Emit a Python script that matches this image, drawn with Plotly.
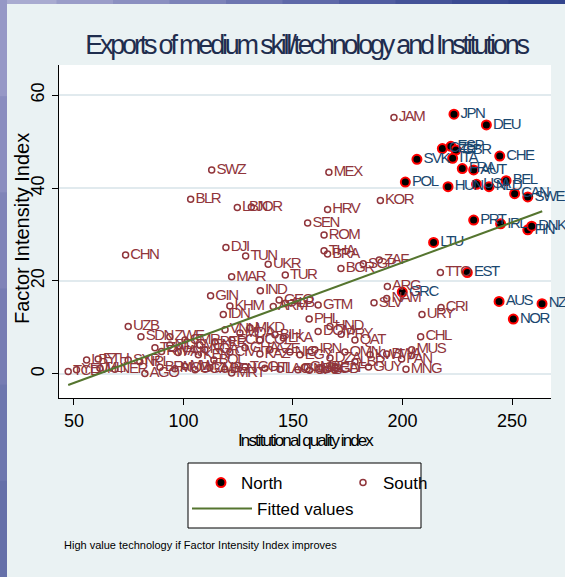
import plotly.graph_objects as go

# ---------------- data ----------------
north_labels = ["JPN", "DEU", "CZE", "ESP", "GBR", "SVK", "ITA", "CHE", "FRA", "AUT",
                "POL", "HUN", "USA", "NLD", "BEL", "CAN", "SWE", "PRT", "IRL", "FIN",
                "DNK", "LTU", "EST", "GRC", "AUS", "NZL", "NOR"]
north_x = [223.5, 238.3, 218.2, 222.1, 224.4, 206.6, 222.9, 244.4, 227.3, 232.5,
           201.3, 220.8, 233.8, 239.5, 247.3, 251.2, 257.2, 232.5, 244.8, 257.2,
           259.0, 214.2, 229.6, 199.9, 244.1, 263.7, 250.6]
north_y = [55.9, 53.6, 48.5, 49.0, 48.2, 46.2, 46.4, 46.9, 44.2, 43.9,
           41.3, 40.3, 40.8, 40.3, 41.6, 38.8, 38.1, 33.1, 32.3, 31.0,
           31.8, 28.3, 21.8, 17.6, 15.6, 15.1, 11.8]

south_labels = ["JAM", "SWZ", "MEX", "BLR", "LBN", "JOR", "HRV", "KOR", "SEN", "ROM",
                "DJI", "TUN", "UKR", "THA", "BRA", "CHN", "BGR", "SGP", "ZAF", "TUR",
                "MAR", "TTO", "IND", "GEO", "GIN", "KHM", "IDN", "UZB", "SDN", "ZWE",
                "ARG", "SLV", "NAM", "CRI", "URY", "CHL", "GTM", "PHL", "HND", "DOM",
                "LKA", "MNG", "PAN", "MUS", "BWA", "GUY", "MRT", "GNB", "GAB", "BGD",
                "TCD", "YEM", "LBY", "ETH", "SYR", "NPL", "RWA", "PAK", "KEN", "BOL",
                "AGO", "ARM", "ALB", "VNM", "MDA", "MKD", "PER", "ECU", "COL", "BIH",
                "NIC", "VEN", "CMR", "MDG", "TZA", "NGA", "CIV", "GHA", "KAZ", "AZE",
                "MLI", "NER", "BFA", "MOZ", "MWI", "UGA", "ZMB", "BEN", "TGO", "HTI",
                "LAO", "GMB", "SLE", "CAF", "EGY", "IRN", "DZA", "OMN", "LBR", "KWT",
                "PRY", "QAT"]
south_x = [196.1, 112.9, 166.4, 103.3, 124.6, 131.0, 165.8, 189.9, 156.7, 164.2,
           119.4, 128.4, 138.7, 164.2, 165.8, 73.6, 171.9, 182.1, 189.4, 146.5,
           122.0, 217.3, 135.1, 143.7, 112.4, 121.2, 118.2, 74.8, 80.6, 93.8,
           193.1, 187.0, 192.8, 217.6, 208.9, 208.3, 161.5, 157.4, 166.9, 161.5,
           145.6, 201.6, 199.6, 204.2, 192.8, 184.5, 122.0, 152.3, 157.5, 165.0,
           47.4, 51.2, 55.8, 61.1, 74.8, 80.1, 90.0, 97.6, 106.8, 113.9,
           82.4, 141.0, 146.5, 119.0, 125.8, 130.4, 114.4, 122.1, 134.9, 141.8,
           148.6, 107.5, 100.7, 93.8, 87.0, 109.8, 121.2, 128.1, 134.9, 139.5,
           61.9, 68.7, 89.3, 96.1, 100.7, 105.3, 112.1, 118.9, 128.1, 137.2,
           144.1, 155.5, 162.3, 169.2, 153.2, 160.0, 166.9, 173.7, 178.3, 185.2,
           172.0, 178.3]
south_y = [55.2, 43.9, 43.4, 37.6, 35.8, 35.9, 35.4, 37.3, 32.5, 29.9,
           27.2, 25.4, 23.6, 26.5, 25.8, 25.6, 22.7, 23.7, 24.5, 21.3,
           20.9, 21.8, 17.9, 15.9, 16.8, 14.6, 12.8, 10.2, 8.0, 8.0,
           18.8, 15.3, 16.2, 14.3, 12.8, 8.0, 14.8, 11.8, 10.2, 9.1,
           7.7, 1.0, 3.2, 5.2, 4.3, 1.5, 0.2, 0.9, 0.8, 0.9,
           0.5, 0.9, 3.0, 3.2, 3.0, 2.6, 4.8, 4.6, 4.1, 3.0,
           0.1, 14.5, 15.2, 9.5, 8.8, 9.9, 6.9, 7.3, 7.3, 8.4,
           4.7, 6.2, 7.3, 6.2, 5.6, 5.2, 4.7, 5.6, 4.3, 5.2,
           1.2, 1.0, 1.4, 1.1, 1.6, 0.9, 1.3, 1.0, 1.5, 1.2,
           1.0, 1.4, 1.1, 1.3, 4.1, 5.2, 3.4, 4.7, 2.6, 4.1,
           8.5, 7.3]

fit_x = [47.4, 263.8]
fit_y = [-2.4, 35.0]

x_ticks = [50, 100, 150, 200, 250]
y_ticks = [0, 20, 40, 60]

# ---------------- layout helpers ----------------
W, H = 565, 577
L, R, T, B = 59, 551, 65, 398


def pxx(p):
    return (p - L) / (R - L)


def pxy(p):
    return (B - p) / (B - T)


FONT = "Liberation Sans, Arial, sans-serif"
NAVY = "#1a476f"
MAROON = "#90353b"
GREEN = "#55752f"

fig = go.Figure()

fig.add_trace(go.Scatter(
    x=north_x, y=north_y, text=north_labels, mode="markers+text",
    textposition="middle right", name="North", cliponaxis=False,
    marker=dict(symbol="circle", size=9, color="black", line=dict(color="#ff0000", width=2)),
    textfont=dict(family=FONT, size=15, color=NAVY),
    legend="legend",
))
fig.add_trace(go.Scatter(
    x=south_x, y=south_y, text=south_labels, mode="markers+text",
    textposition="middle right", name="South", cliponaxis=False,
    marker=dict(symbol="circle-open", size=6, color=MAROON, line=dict(color=MAROON, width=1.5)),
    textfont=dict(family=FONT, size=15, color=MAROON),
    legend="legend",
))
fig.add_trace(go.Scatter(
    x=fit_x, y=fit_y, mode="lines", name="Fitted values",
    line=dict(color=GREEN, width=2), legend="legend2",
))

shapes = []
# legend frame
shapes.append(dict(type="rect", xref="paper", yref="paper",
                   x0=pxx(188), x1=pxx(421), y0=pxy(528), y1=pxy(463),
                   fillcolor="white", line=dict(color="black", width=1), layer="below"))
# decorative slide strips
top_cols = ["#a9abd0", "#9a9dc8", "#8b90c0", "#7c83b8", "#6d76b0", "#5e69a8",
            "#505da0", "#445398", "#3a4b92", "#33458d"]
n = len(top_cols)
for i, c in enumerate(top_cols):
    shapes.append(dict(type="rect", xref="paper", yref="paper",
                       x0=pxx(W * i / n), x1=pxx(W * (i + 1) / n + 1),
                       y0=pxy(4), y1=pxy(0), fillcolor=c, line=dict(width=0), layer="above"))
left_cols = ["#9698c6", "#8a8dbf", "#7f84b8", "#767db3", "#6d77ae", "#6570a9"]
m = len(left_cols)
for i, c in enumerate(left_cols):
    shapes.append(dict(type="rect", xref="paper", yref="paper",
                       x0=pxx(0), x1=pxx(7),
                       y0=pxy(H * (i + 1) / m + 1), y1=pxy(H * i / m),
                       fillcolor=c, line=dict(width=0), layer="above"))

fig.update_layout(
    width=W, height=H,
    margin=dict(l=L, r=W - R, t=T, b=H - B, autoexpand=False),
    paper_bgcolor="#eaf2f3", plot_bgcolor="white",
    font=dict(family=FONT, color="black"),
    title=dict(text="Exports of medium skill/technology and Institutions",
               x=306 / W, xanchor="center", y=1 - 45 / H, yanchor="middle",
               font=dict(family=FONT, size=27, color="#1f2d4e")),
    xaxis=dict(range=[43.2, 267.8], tickvals=x_ticks, ticks="outside", ticklen=6,
               tickcolor="black", showline=True, linecolor="black", linewidth=1,
               showgrid=False, zeroline=False, tickfont=dict(size=18, color="black"),
               title=dict(text="Institutional quality index", font=dict(size=17), standoff=0)),
    yaxis=dict(range=[-5.2, 66.5], tickvals=y_ticks, ticks="outside", ticklen=6,
               tickcolor="black", showline=True, linecolor="black", linewidth=1,
               showgrid=True, gridcolor="#e1eaee", gridwidth=1.5, zeroline=False,
               tickangle=-90, tickfont=dict(size=18, color="black"), ticklabelstandoff=1),
    legend=dict(orientation="h", x=pxx(201), xanchor="left", y=pxy(465), yanchor="top",
                bgcolor="rgba(0,0,0,0)", entrywidth=97, font=dict(size=17, color="black")),
    legend2=dict(orientation="h", x=pxx(187), xanchor="left", y=pxy(491), yanchor="top",
                 bgcolor="rgba(0,0,0,0)", itemwidth=60, font=dict(size=17, color="black")),
    shapes=shapes,
    annotations=[
        dict(text="Factor Intensity Index", xref="paper", yref="paper",
             x=pxx(22), y=pxy(229), xanchor="center", yanchor="middle", textangle=-90,
             showarrow=False, font=dict(family=FONT, size=20, color="black")),
        dict(text="High value technology if Factor Intensity Index improves",
             xref="paper", yref="paper", x=pxx(62), y=pxy(545),
             xanchor="left", yanchor="middle", showarrow=False,
             font=dict(family=FONT, size=11, color="black")),
    ],
)

# condensed lettering like the original export
css = (".gtitle{letter-spacing:-3.2px}"
       ".textpoint text{letter-spacing:-1.5px}"
       ".g-xtitle text{letter-spacing:-1.9px}")
post = ("var s=document.createElement('style');s.textContent=%r;"
        "document.head.appendChild(s);" % css)

fig.write_html("out.html", post_script=post)
